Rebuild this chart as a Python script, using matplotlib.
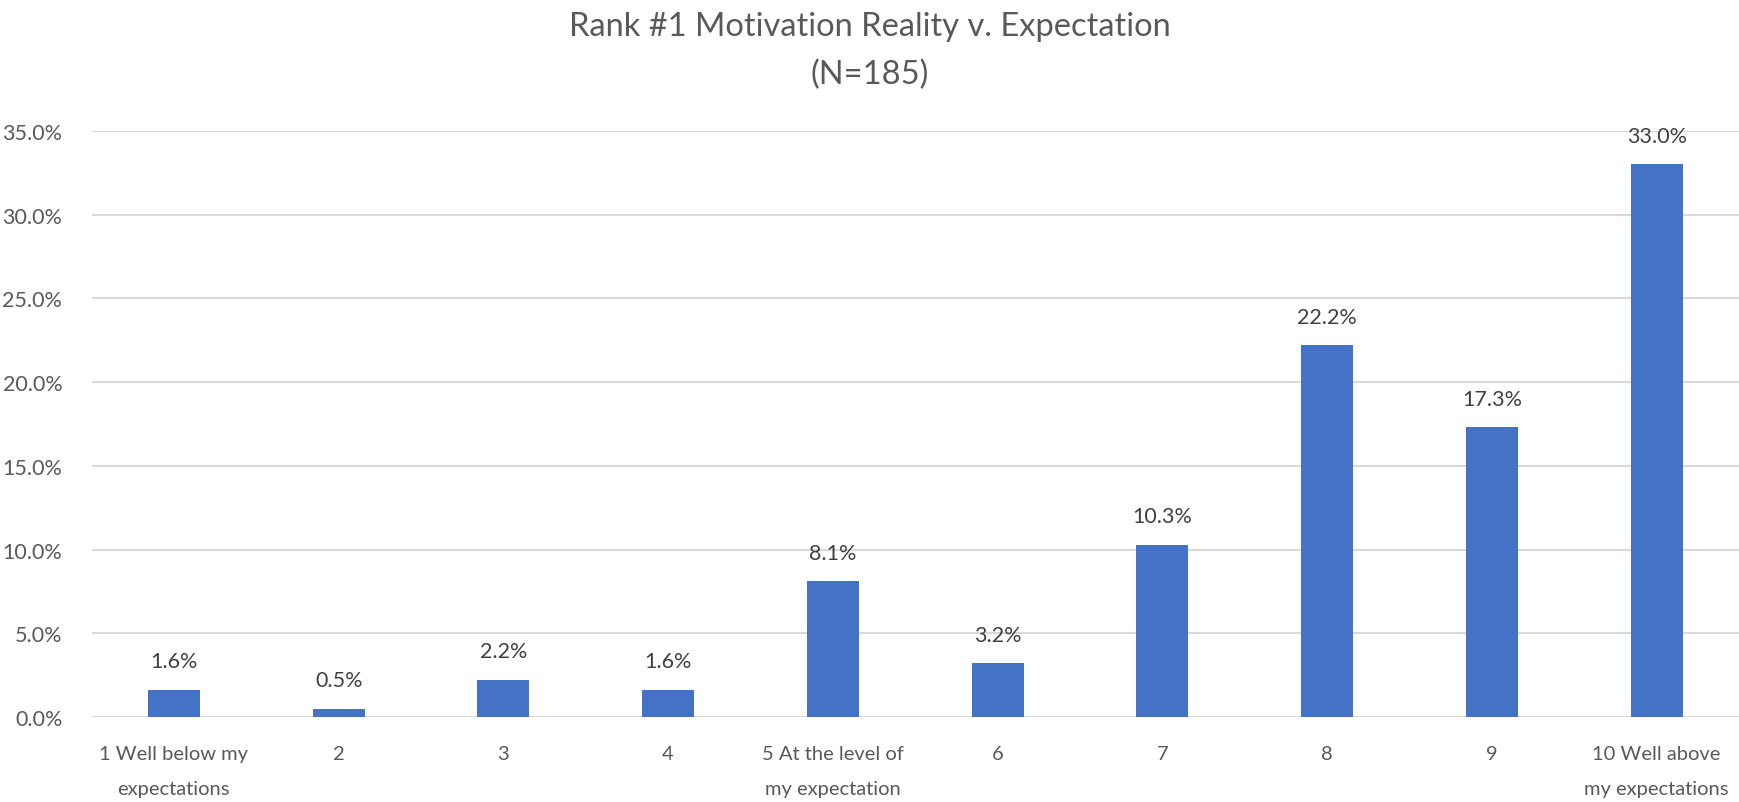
import matplotlib
matplotlib.use("Agg")
import matplotlib.pyplot as plt
from matplotlib.ticker import FuncFormatter, MultipleLocator

categories = ["1 Well below my\nexpectations", "2", "3", "4", "5 At the level of\nmy expectation",
              "6", "7", "8", "9", "10 Well above\nmy expectations"]
values = [1.6, 0.5, 2.2, 1.6, 8.1, 3.2, 10.3, 22.2, 17.3, 33.0]
title = "Rank #1 Motivation Reality v. Expectation\n(N=185)"

plt.rcParams['font.family'] = ['Lato', 'DejaVu Sans']
text_color = "#595959"
bar_color = "#4472C4"
grid_color = "#D9D9D9"

fig = plt.figure(figsize=(17.39, 8.03), dpi=100)
ax = fig.add_axes([91.5/1739, 1-718/803, (1739-91.5)/1739, (718-132)/803])

x = list(range(len(categories)))
bars = ax.bar(x, values, width=0.316, color=bar_color, zorder=3)
for xi, v in zip(x, values):
    ax.annotate(f"{v:.1f}%", (xi, v), xytext=(0, 13.5), textcoords="offset points",
                ha="center", va="bottom", fontsize=15.5, color="#404040")

ax.set_xlim(-0.5, len(categories) - 0.5)
ax.set_ylim(0, 35)
ax.yaxis.set_major_locator(MultipleLocator(5))
ax.yaxis.set_major_formatter(FuncFormatter(lambda v, p: f"{v:.1f}%"))
ax.grid(axis="y", color=grid_color, linewidth=1.5, zorder=0)
for s in ax.spines.values():
    s.set_visible(False)
ax.set_xticks(x)
ax.set_xticklabels(categories, linespacing=2.3)
ax.tick_params(axis="both", length=0, colors=text_color)
ax.tick_params(axis="y", pad=21, labelsize=15.5)
ax.tick_params(axis="x", pad=20, labelsize=14.5)

fig.text(0.5, 1 - 51/803, title, ha="center", va="center", fontsize=23.5,
         color=text_color, linespacing=1.75)

fig.savefig("out.png", dpi=100)
